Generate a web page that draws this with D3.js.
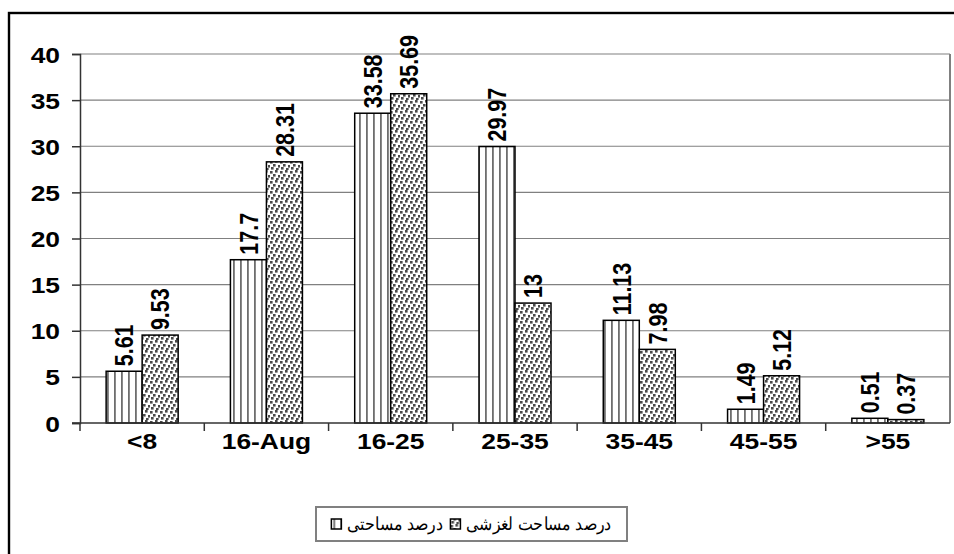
<!DOCTYPE html>
<html>
<head>
<meta charset="utf-8">
<script src="https://cdn.jsdelivr.net/npm/d3@7"></script>
<style>
  html, body { margin: 0; padding: 0; background: #fff; }
  svg { display: block; }
  text { font-family: "Liberation Sans", Arial, sans-serif; }
</style>
</head>
<body>
<svg id="chart" width="954" height="554"></svg>
<script>
// Slope classes (degrees) and the two percentage series
const categories = ["<8", "16-Aug", "16-25", "25-35", "35-45", "45-55", ">55"];
const areaPct = [5.61, 17.7, 33.58, 29.97, 11.13, 1.49, 0.51];
const slidePct = [9.53, 28.31, 35.69, 13, 7.98, 5.12, 0.37];
const seriesNames = ["درصد مساحتی", "درصد مساحت لغزشی"];
const yTicks = [0, 5, 10, 15, 20, 25, 30, 35, 40];

const svg = d3.select("#chart");
const plot = { left: 80, right: 950, top: 54, bottom: 423 };
const stretch = 1.2; // glyphs are drawn a little wider than tall

// patterns for the two series
const defs = svg.append("defs");
const stripes = defs.append("pattern")
  .attr("id", "stripes").attr("patternUnits", "userSpaceOnUse")
  .attr("width", 7).attr("height", 7);
stripes.append("rect").attr("width", 7).attr("height", 7).attr("fill", "#fff");
stripes.append("rect").attr("x", 2).attr("width", 1.8).attr("height", 7).attr("fill", "#6e6e6e");

const dots = defs.append("pattern")
  .attr("id", "dots").attr("patternUnits", "userSpaceOnUse")
  .attr("width", 10).attr("height", 10);
dots.append("rect").attr("width", 10).attr("height", 10).attr("fill", "#fff");
[[0, 1], [5, 0], [3, 4], [8, 5], [1, 7], [6, 8]].forEach(([dx, dy]) => {
  dots.append("rect").attr("x", dx).attr("y", dy).attr("width", 2.6).attr("height", 2.6).attr("fill", "#4a4a4a");
});

// outer frame
svg.append("rect")
  .attr("x", 9).attr("y", 13).attr("width", 960).attr("height", 560)
  .attr("fill", "none").attr("stroke", "#000").attr("stroke-width", 2.4);

const y = d3.scaleLinear().domain([0, 40]).range([plot.bottom, plot.top]);
const xGroup = d3.scaleBand().domain(categories).range([plot.left, plot.right]).padding(0);
const xInner = d3.scaleBand().domain([0, 1]).range([0, xGroup.bandwidth()])
  .paddingInner(0).paddingOuter(0.726);

// gridlines
svg.append("g").selectAll("line").data(yTicks.filter(t => t > 0)).join("line")
  .attr("x1", plot.left).attr("x2", plot.right)
  .attr("y1", d => y(d)).attr("y2", d => y(d))
  .attr("stroke", "#808080").attr("stroke-width", 1.2);

// plot-area right edge
svg.append("line")
  .attr("x1", plot.right).attr("x2", plot.right)
  .attr("y1", plot.top).attr("y2", plot.bottom)
  .attr("stroke", "#808080").attr("stroke-width", 2);

// bars and their value labels
const valueFont = 21.5;
const series = [
  { values: areaPct, fill: "url(#stripes)" },
  { values: slidePct, fill: "url(#dots)" }
];
series.forEach((s, si) => {
  const g = svg.append("g");
  g.selectAll("rect").data(categories).join("rect")
    .attr("x", c => xGroup(c) + xInner(si))
    .attr("y", (c, i) => y(s.values[i]))
    .attr("width", xInner.bandwidth())
    .attr("height", (c, i) => y(0) - y(s.values[i]))
    .attr("fill", s.fill)
    .attr("stroke", "#000").attr("stroke-width", 1.5);
  g.selectAll("text").data(categories).join("text")
    .attr("transform", (c, i) => {
      const cx = xGroup(c) + xInner(si) + xInner.bandwidth() / 2 + valueFont * 0.72 * stretch / 2;
      const ty = y(s.values[i]) - 5;
      return `translate(${cx},${ty}) scale(${stretch},1) rotate(-90)`;
    })
    .attr("font-size", valueFont).attr("font-weight", "bold")
    .text((c, i) => s.values[i]);
});

// y axis
const yAxis = svg.append("g").attr("transform", `translate(${plot.left},0)`)
  .call(d3.axisLeft(y).tickValues(yTicks).tickSize(8).tickPadding(0));
yAxis.select(".domain").attr("stroke", "#333").attr("stroke-width", 1.5);
yAxis.selectAll(".tick line").attr("stroke", "#333").attr("stroke-width", 1.5);
yAxis.selectAll(".tick text")
  .attr("x", null).attr("dy", null).attr("y", 8)
  .attr("transform", `translate(-20,0) scale(${stretch},1)`)
  .attr("font-size", 22).attr("font-weight", "bold")
  .attr("font-family", "Liberation Sans, Arial, sans-serif").attr("fill", "#000");

// x axis baseline with category boundary ticks
svg.append("line")
  .attr("x1", plot.left - 8).attr("x2", plot.right)
  .attr("y1", plot.bottom).attr("y2", plot.bottom)
  .attr("stroke", "#333").attr("stroke-width", 1.5);
svg.append("g").selectAll("line").data(categories).join("line")
  .attr("x1", c => xGroup(c)).attr("x2", c => xGroup(c))
  .attr("y1", plot.bottom).attr("y2", plot.bottom + 8)
  .attr("stroke", "#333").attr("stroke-width", 1.5);
svg.append("g").selectAll("text").data(categories).join("text")
  .attr("transform", c => `translate(${xGroup(c) + xGroup.bandwidth() / 2},${plot.bottom + 26}) scale(${stretch},1)`)
  .attr("text-anchor", "middle")
  .attr("font-size", 22).attr("font-weight", "bold")
  .text(c => c);

// legend
const legend = svg.append("g");
const legBox = { x: 316, y: 507, w: 311, h: 34 };
legend.append("rect")
  .attr("x", legBox.x).attr("y", legBox.y).attr("width", legBox.w).attr("height", legBox.h)
  .attr("fill", "#fff").attr("stroke", "#808080").attr("stroke-width", 2);

const fills = ["url(#stripes)", "url(#dots)"];
const legendScale = 0.88;
const items = legend.selectAll("g.item").data(seriesNames).join("g").attr("class", "item");
items.append("rect")
  .attr("width", 10).attr("height", 10)
  .attr("fill", (d, i) => fills[i]).attr("stroke", "#000").attr("stroke-width", 1.5);
const labels = items.append("text")
  .attr("font-size", 18)
  .text(d => d);
const widths = labels.nodes().map(n => n.getComputedTextLength() * legendScale);
const gapMarker = 6, gapItem = 8;
const total = widths.reduce((a, w) => a + 10 + gapMarker + w, 0) + gapItem;
let cx = legBox.x + (legBox.w - total) / 2;
items.each(function (d, i) {
  const g = d3.select(this);
  g.attr("transform", `translate(${cx},${legBox.y + legBox.h / 2})`);
  g.select("rect").attr("y", -5);
  g.select("text").attr("transform", `translate(${10 + gapMarker},6) scale(${legendScale},1)`);
  cx += 10 + gapMarker + widths[i] + gapItem;
});
</script>
</body>
</html>
